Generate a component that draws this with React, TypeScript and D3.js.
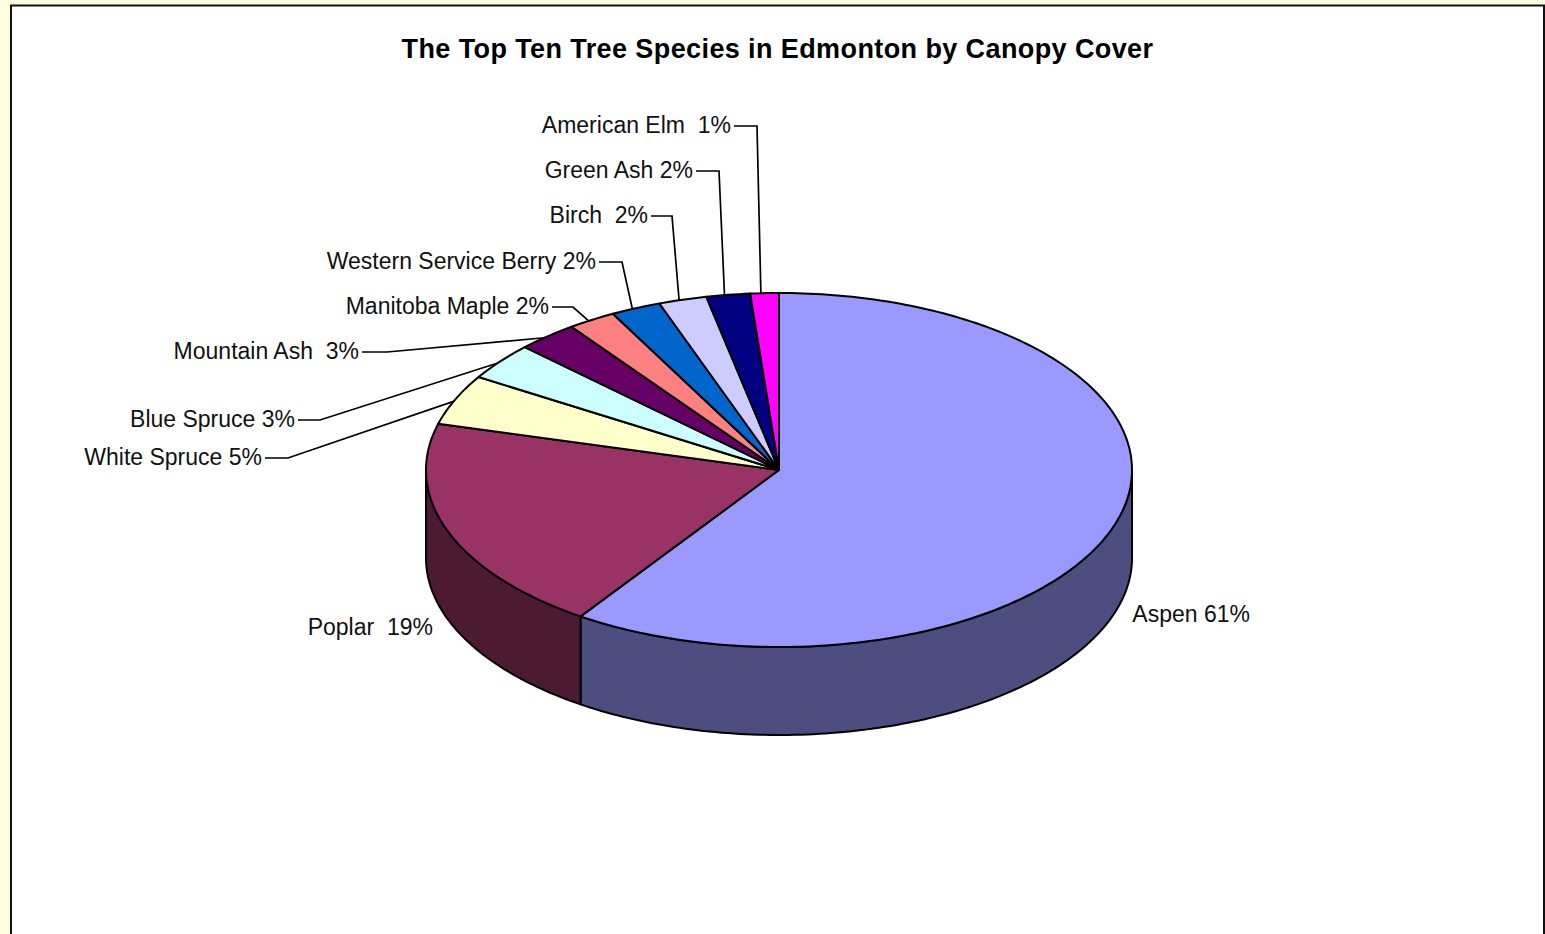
import * as d3 from "d3";

const W = 1545;
const H = 934;

const species = [
  "Aspen", "Poplar", "White Spruce", "Blue Spruce", "Mountain Ash",
  "Manitoba Maple", "Western Service Berry", "Birch", "Green Ash", "American Elm",
];
// apparent share of the drawn ellipse (the 3D tilt skews it a bit)
const shares = [59.5, 19.7, 4.6, 3.4, 2.8, 2.2, 2.3, 2.2, 2.0, 1.3];
const labels = [
  "Aspen 61%", "Poplar  19%", "White Spruce 5%", "Blue Spruce 3%", "Mountain Ash  3%",
  "Manitoba Maple 2%", "Western Service Berry 2%", "Birch  2%", "Green Ash 2%", "American Elm  1%",
];
const topColors = [
  "#9999ff", "#993366", "#ffffcc", "#ccffff", "#660066",
  "#ff8080", "#0066cc", "#ccccff", "#000080", "#ff00ff",
];
const wallColors = ["#4d4d80", "#4d1a33"];

// layout: right edge of each label, its vertical middle, and the elbow of its leader (if any)
const labelRight = [1250, 433, 262, 295, 359, 549, 596, 648, 693, 731];
const labelMid = [615, 628, 458, 420, 352, 307, 262, 216, 171, 126];
const elbowX = [null, null, 288, 320, 387, 573, 622, 672, 719, 757];

const TITLE = "The Top Ten Tree Species in Edmonton by Canopy Cover";

const cx = 779;
const cy = 470;
const rx = 353;
const ry = 177;
const depth = 88;
const LEADER_NUDGE = (-0.6 * Math.PI) / 180; // leaders land a hair before the slice middle

const pie = d3.pie<number>().sort(null).value((d) => d);
const slices = pie(shares);

// a = clockwise from twelve o'clock
const px = (a: number) => cx + rx * Math.sin(a);
const py = (a: number) => cy - ry * Math.cos(a);

const lineGen = d3.line<[number, number]>();

function rimPoints(a0: number, a1: number): [number, number][] {
  const n = Math.max(2, Math.ceil((Math.abs(a1 - a0) * 180) / Math.PI));
  return d3.range(n + 1).map((i) => {
    const a = a0 + ((a1 - a0) * i) / n;
    return [px(a), py(a)] as [number, number];
  });
}

function slicePath(a0: number, a1: number) {
  return lineGen([[cx, cy], ...rimPoints(a0, a1)])! + "Z";
}

function wallPath(a0: number, a1: number) {
  const top = rimPoints(a0, a1);
  const bottom = top.map(([x, y]) => [x, y + depth] as [number, number]).reverse();
  return lineGen([...top, ...bottom])! + "Z";
}

const FRONT_START = Math.PI / 2;
const FRONT_END = (3 * Math.PI) / 2;

export default function App() {
  const walls = slices
    .map((s, i) => ({
      i,
      a0: Math.max(s.startAngle, FRONT_START),
      a1: Math.min(s.endAngle, FRONT_END),
    }))
    .filter((w) => w.a1 > w.a0);

  return (
    <svg
      width={W}
      height={H}
      viewBox={`0 0 ${W} ${H}`}
      style={{ position: "absolute", left: 0, top: 0, display: "block" }}
      fontFamily="'Liberation Sans', Arial, sans-serif"
    >
      <rect x={0} y={0} width={W} height={H} fill="#ffffe0" />
      <rect x={11} y={5.5} width={W + 10} height={H + 10} fill="#ffffff" stroke="#111111" strokeWidth={2} />
      <line x1={1544} x2={1544} y1={5} y2={H} stroke="#111111" strokeWidth={2} />

      <text
        x={777.5}
        y={57.5}
        textAnchor="middle"
        fontSize={27}
        fontWeight={700}
        letterSpacing={0.4}
        fill="#000000"
      >
        {TITLE}
      </text>

      {walls.map((w) => (
        <path
          key={species[w.i] + "-wall"}
          d={wallPath(w.a0, w.a1)}
          fill={wallColors[w.i]}
          stroke="#000000"
          strokeWidth={2}
          strokeLinejoin="round"
        />
      ))}

      {slices.map((s, i) => (
        <path
          key={species[i]}
          d={slicePath(s.startAngle, s.endAngle)}
          fill={topColors[i]}
          stroke="#000000"
          strokeWidth={2}
          strokeLinejoin="round"
        />
      ))}

      {slices.map((s, i) => {
        const ex = elbowX[i];
        if (ex === null) return null;
        const mid = (s.startAngle + s.endAngle) / 2 + LEADER_NUDGE;
        const y = labelMid[i];
        return (
          <polyline
            key={species[i] + "-leader"}
            points={`${labelRight[i] + 3},${y} ${ex},${y} ${px(mid)},${py(mid)}`}
            fill="none"
            stroke="#000000"
            strokeWidth={1.7}
          />
        );
      })}

      {labels.map((t, i) => (
        <text
          key={species[i] + "-label"}
          x={labelRight[i]}
          y={labelMid[i] - 1}
          dy="0.35em"
          textAnchor="end"
          fontSize={23}
          fill="#111111"
          style={{ whiteSpace: "pre" }}
        >
          {t}
        </text>
      ))}
    </svg>
  );
}
